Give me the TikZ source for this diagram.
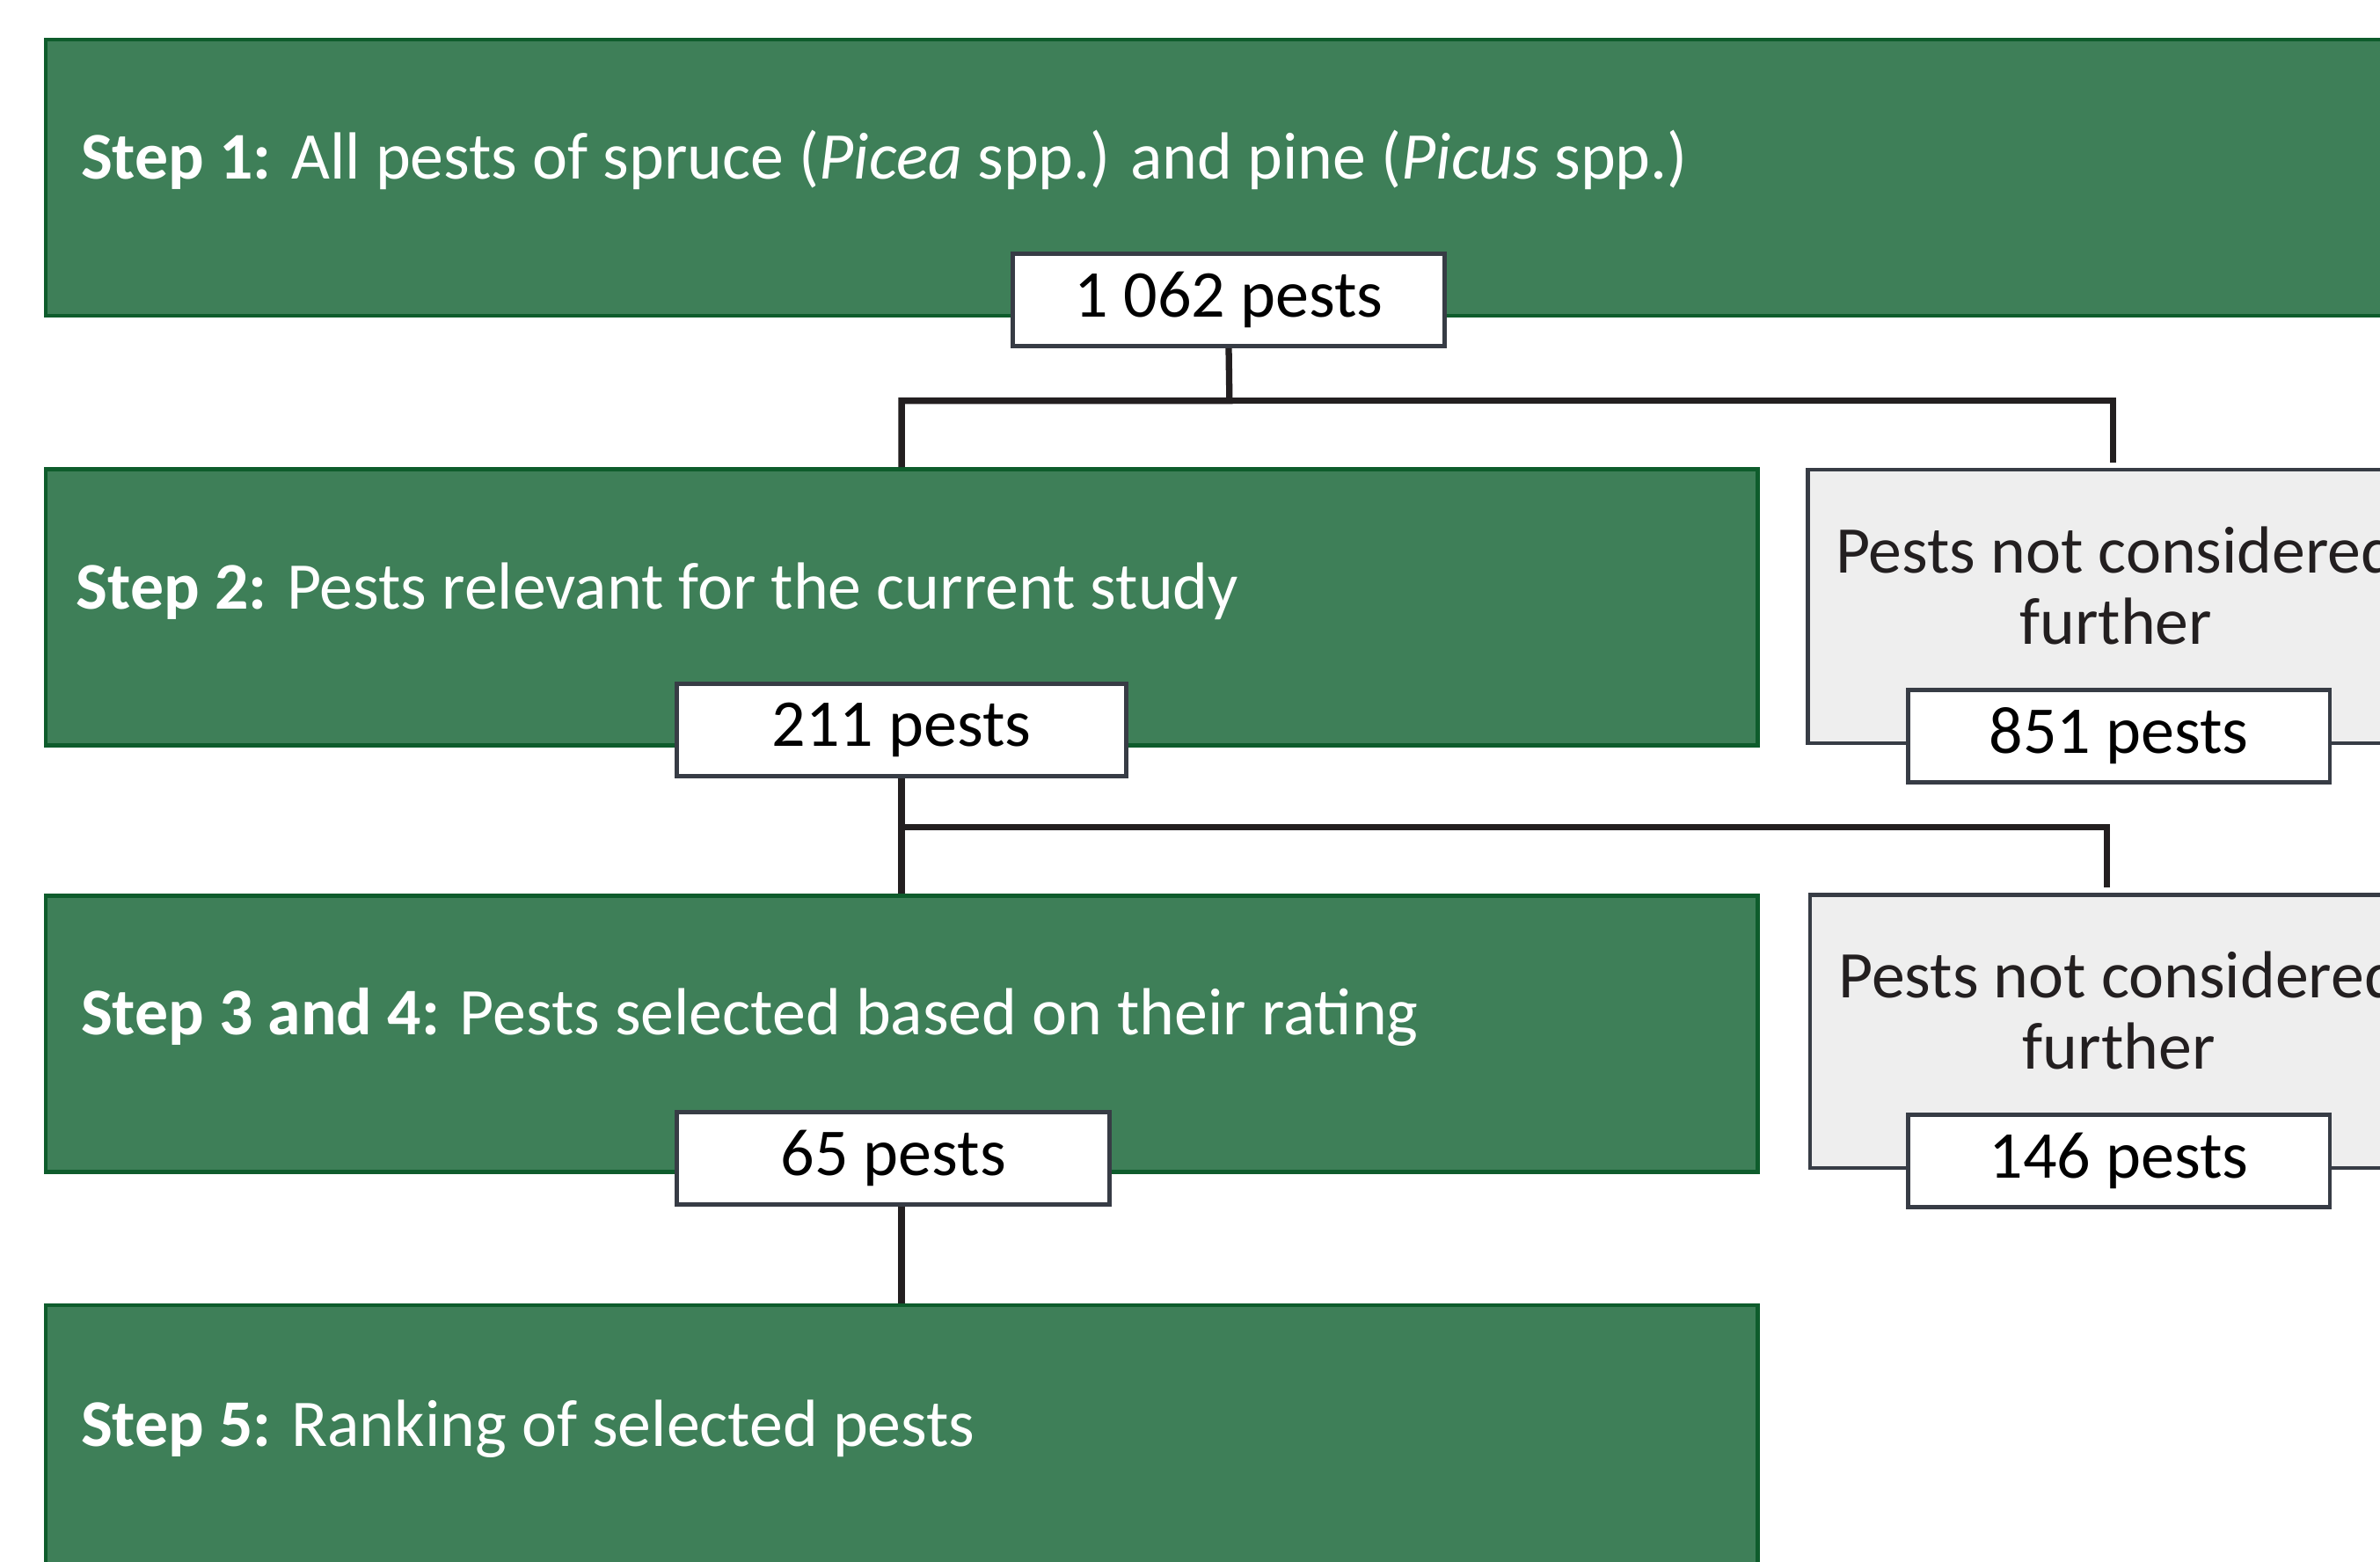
\documentclass[tikz,border=0pt]{standalone}
\usepackage{fontspec}
\setmainfont{Carlito}
\usepackage{tikz}

\definecolor{stepgreen}{HTML}{3E7F58}
\definecolor{stepline}{HTML}{0E5C2C}
\definecolor{boxline}{HTML}{373C45}
\definecolor{linkline}{HTML}{231F20}
\definecolor{dropgrey}{HTML}{EEEEEE}

\begin{document}
\begin{tikzpicture}[x=0.02cm,y=-0.02cm,
  stepbox/.style={draw=stepline,line width=1.5pt,fill=stepgreen,minimum height=3.64cm,inner sep=0pt},
  steptext/.style={text=white,anchor=base west,inner sep=0pt,font=\fontsize{25}{30}\selectfont},
  countbox/.style={draw=boxline,line width=1.6pt,fill=white,minimum height=1.22cm,inner sep=0pt,font=\fontsize{25.1}{30}\selectfont},
  dropbox/.style={draw=boxline,line width=1.4pt,fill=dropgrey,minimum width=8.18cm,minimum height=3.6cm,inner sep=0pt},
  droptext/.style={align=center,inner sep=0pt,text=linkline,font=\fontsize{25}{26.7}\selectfont},
  link/.style={draw=linkline,line width=2.4pt}]
\clip (0,0) rectangle (1568,1029);
\fill[white] (0,0) rectangle (1568,1029);
\node[stepbox,minimum width=31.4cm] (step1) at (815,117) {};
\node[stepbox,minimum width=22.56cm] (step2) at (594,400) {};
\node[stepbox,minimum width=22.56cm] (step3) at (594,681) {};
\node[stepbox,minimum width=22.56cm] (step5) at (594,951) {};
\node[steptext] (t1) at (53,118) {\textbf{Step 1:} All pests of spruce (\textit{Picea} spp.) and pine (\textit{Picus} spp.)};
\node[steptext] (t2) at (50,401) {\textbf{Step 2:} Pests relevant for the current study};
\node[steptext] (t3) at (53,682) {\textbf{Step 3 and 4:} Pests selected based on their rating};
\node[steptext] (t5) at (53,953) {\textbf{Step 5:} Ranking of selected pests};
\node[dropbox] (drop1) at (1395.5,399.5) {};
\node[dropbox] (drop2) at (1397,679.5) {};
\node[droptext] (d1) at (1394,386) {Pests not considered\\further};
\node[droptext] (d2) at (1396,666) {Pests not considered\\further};
\node[countbox,minimum width=5.7cm] (p1062) at (809.5,197.5) {1 062 pests};
\node[countbox,minimum width=5.92cm] (p211) at (594,481) {211 pests};
\node[countbox,minimum width=5.7cm] (p65) at (588.5,763) {65 pests};
\node[countbox,minimum width=5.56cm] (p851) at (1396,485) {851 pests};
\node[countbox,minimum width=5.56cm] (p146) at (1396,765) {146 pests};
\coordinate (fork1) at (810,264);
\coordinate (fork2) at (594,545);
\draw[link] (p1062.south) -- (fork1) -| (step2.north);
\draw[link,shorten >=2pt] (fork1) -| ([xshift=-0.07cm]drop1.north);
\draw[link] (p211.south) -- (fork2) -- (step3.north);
\draw[link,shorten >=2pt] (fork2) -| ([xshift=-0.18cm]drop2.north);
\draw[link] (p65.south -| step5.north) -- (step5.north);
\end{tikzpicture}
\end{document}
